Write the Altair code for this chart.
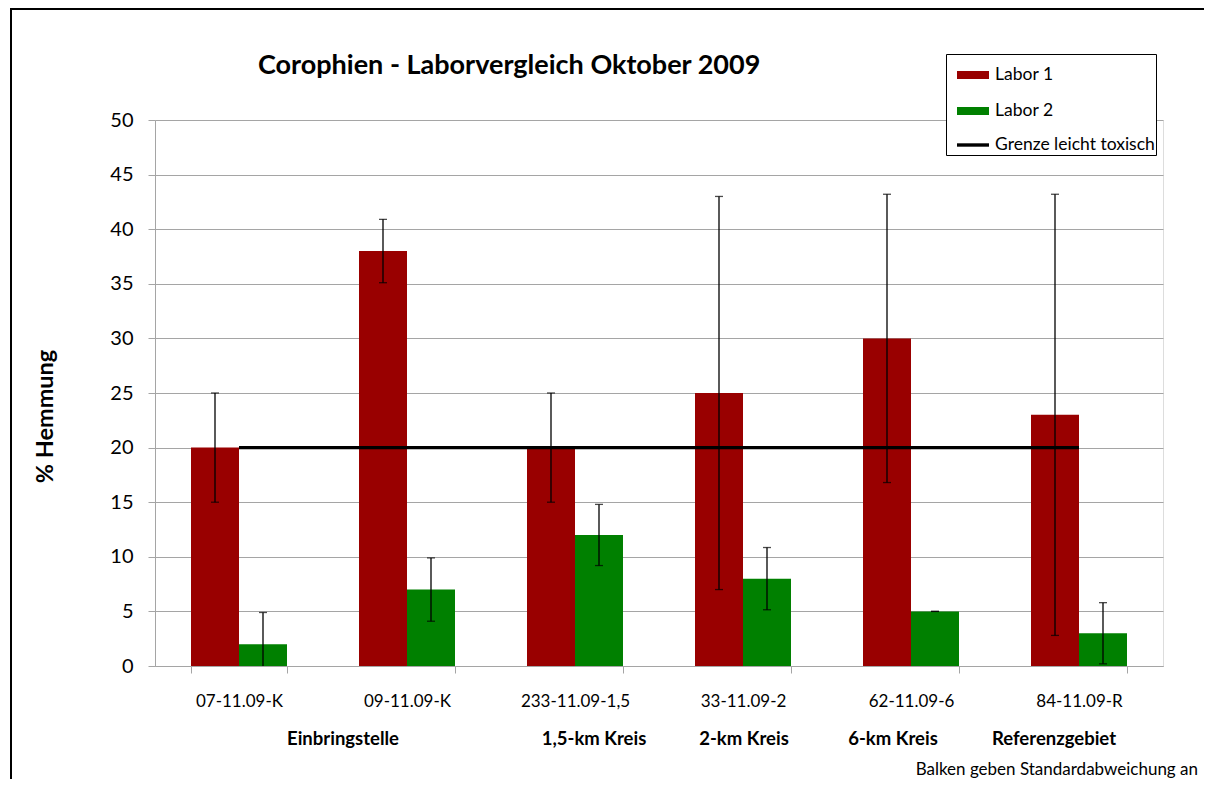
import altair as alt
import pandas as pd

# ---------------- data ----------------
categories = ["07-11.09-K", "09-11.09-K", "233-11.09-1,5", "33-11.09-2", "62-11.09-6", "84-11.09-R"]
series_names = ["Labor 1", "Labor 2"]
labor1 = [20, 38, 20, 25, 30, 23]
labor1_sd = [5, 2.9, 5, 18, 13.2, 20.2]
labor2 = [2, 7, 12, 8, 5, 3]
labor2_sd = [2.9, 2.9, 2.8, 2.85, 0, 2.8]
threshold_name = "Grenze leicht toxisch"
threshold = [20, 20, 20, 20, 20, 20]
group_labels = ["Einbringstelle", "1,5-km Kreis", "2-km Kreis", "6-km Kreis", "Referenzgebiet"]
group_anchor = ["07-11.09-K", "233-11.09-1,5", "33-11.09-2", "62-11.09-6", "84-11.09-R"]
y_ticks = [0, 5, 10, 15, 20, 25, 30, 35, 40, 45, 50]
title_text = "Corophien - Laborvergleich Oktober 2009"
y_title = "% Hemmung"
note_text = "Balken geben Standardabweichung an"

# ---------------- style ----------------
FONT = "Lato"
RED = "#990000"
GREEN = "#008000"
GRID = "#a5a5a5"
W, H = 1008, 546
PAD = {"left": 147, "top": 112, "right": 41, "bottom": 113}
GROUP_DX = {"Einbringstelle": 104, "1,5-km Kreis": 19, "2-km Kreis": 1, "6-km Kreis": -18, "Referenzgebiet": -25}
ALL_SERIES = series_names + [threshold_name]

rows = []
for i, c in enumerate(categories):
    rows.append({"cat": c, "series": series_names[0], "value": labor1[i], "sd": labor1_sd[i]})
    rows.append({"cat": c, "series": series_names[1], "value": labor2[i], "sd": labor2_sd[i]})
df = pd.DataFrame(rows)
df["lo"] = df["value"] - df["sd"]
df["hi"] = df["value"] + df["sd"]

thr_df = pd.DataFrame({"cat": categories, "value": threshold, "series": threshold_name})

x_enc = alt.X("cat:N", sort=categories, title=None,
              scale=alt.Scale(paddingInner=0.4286, paddingOuter=0.2143),
              axis=alt.Axis(labelFont=FONT, labelFontSize=17, labelColor="black", labelAngle=0,
                            labelPadding=20, tickBand="extent", tickSize=7, tickColor=GRID,
                            domainColor=GRID, grid=False))
x_plain = alt.X("cat:N", sort=categories)
xoff = alt.XOffset("series:N", sort=series_names, scale=alt.Scale(paddingInner=0, paddingOuter=0))

y_enc = alt.Y("value:Q", scale=alt.Scale(domain=[0, 50], nice=False),
              axis=alt.Axis(values=y_ticks, title=y_title, titleFont=FONT, titleFontSize=23.5,
                            titleFontWeight="bold", titleColor="black", titleAngle=270,
                            titleX=-110, titleY=296, titleAlign="center", titleBaseline="middle",
                            labelFont=FONT, labelFontSize=20, labelColor="black", labelPadding=15,
                            tickSize=7, tickColor=GRID, domainColor=GRID, gridColor=GRID,
                            gridWidth=1.2))

legend = alt.Legend(
    title=None, orient="none", legendX=791, legendY=-66,
    strokeColor="black", fillColor="white", padding=1, cornerRadius=0,
    symbolOffset=6,
    labelFont=FONT, labelFontSize=17.5, labelColor="black", labelOffset=2,
    symbolType="stroke", symbolSize=1024, rowPadding=-3,
)

color_enc = alt.Color("series:N",
                      scale=alt.Scale(domain=ALL_SERIES, range=[RED, GREEN, "#000000"]),
                      legend=legend)

bars = alt.Chart(df).mark_bar().encode(
    x=x_enc, xOffset=xoff, y=y_enc, color=color_enc)

err = alt.Chart(df).mark_rule(color="black", strokeWidth=1.3, clip=True).encode(
    x=x_plain, xOffset=xoff, y=alt.Y("lo:Q"), y2="hi:Q")
cap_hi = alt.Chart(df).mark_tick(color="black", size=8, thickness=1.3, orient="horizontal").encode(
    x=x_plain, xOffset=xoff, y=alt.Y("hi:Q"))
cap_lo = alt.Chart(df).transform_filter("datum.lo >= 0").mark_tick(
    color="black", size=8, thickness=1.3, orient="horizontal").encode(
    x=x_plain, xOffset=xoff, y=alt.Y("lo:Q"))

thr = alt.Chart(thr_df).mark_line().encode(
    x=x_plain, y=alt.Y("value:Q"), color=color_enc,
    strokeWidth=alt.StrokeWidth("series:N",
                                scale=alt.Scale(type="ordinal", domain=ALL_SERIES, range=[8, 8, 3.4]),
                                legend=legend))

group_layers = []
for lab, anc in zip(group_labels, group_anchor):
    gd = pd.DataFrame({"cat": [anc], "label": [lab]})
    group_layers.append(
        alt.Chart(gd).mark_text(font=FONT, fontSize=18.5, fontWeight="bold", color="black",
                                baseline="middle", align="center", dx=GROUP_DX[lab]).encode(
            x=x_plain, y=alt.value(619), text="label:N"))

note = alt.Chart(pd.DataFrame({"t": [note_text]})).mark_text(
    font=FONT, fontSize=17, color="black", align="right", baseline="alphabetic").encode(
    x=alt.value(1043), y=alt.value(655), text="t:N")

title = alt.Chart(pd.DataFrame({"t": [title_text]})).mark_text(
    font=FONT, fontSize=27, fontWeight="bold", color="black", align="left", baseline="middle").encode(
    x=alt.value(103), y=alt.value(-54), text="t:N")

frame_top = alt.Chart(pd.DataFrame({"f": [0]})).mark_rule(color="black", strokeWidth=2).encode(
    x=alt.value(-145), x2=alt.value(W + 60), y=alt.value(-111))
frame_left = alt.Chart(pd.DataFrame({"f": [0]})).mark_rule(color="black", strokeWidth=2).encode(
    x=alt.value(-144), y=alt.value(-112), y2=alt.value(H + 140))

chart = alt.layer(frame_top, frame_left, bars, err, cap_hi, cap_lo, thr, *group_layers, note, title).properties(
    width=W, height=H,
    autosize=alt.AutoSizeParams(type="none"),
    padding=PAD,
).configure_view(stroke=None).configure(background="white")

chart.save("out.html", embed_options={"renderer": "svg", "actions": False})
